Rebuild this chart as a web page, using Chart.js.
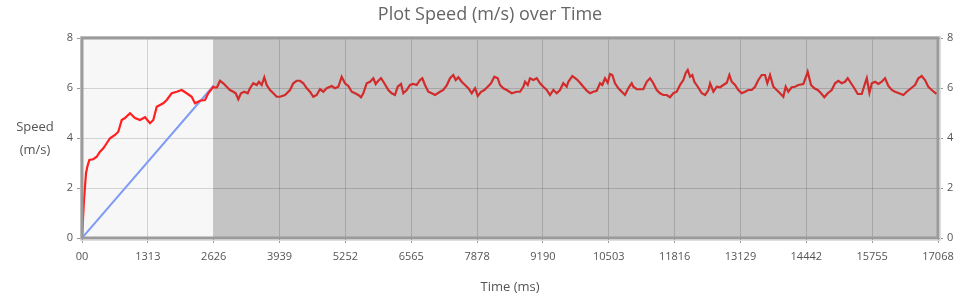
<!DOCTYPE html>
<html>
<head>
<meta charset="utf-8">
<script src="https://cdn.jsdelivr.net/npm/chart.js@4"></script>
<style>
  html, body { margin: 0; padding: 0; background: #fff; }
  #wrap { width: 980px; height: 298px; }
</style>
</head>
<body>
<div id="wrap"><canvas id="speedChart"></canvas></div>
<script>
// Speed samples (time in ms, speed in m/s)
const timeMs = [
  0, 40, 80, 106, 146, 225, 293, 359, 425, 493, 558, 658, 724, 792, 857, 957,
  1057, 1157, 1256, 1356, 1422, 1490, 1555, 1621, 1689, 1789, 1888, 1988, 2088,
  2187, 2253, 2353, 2453, 2518, 2618,
  2686, 2752, 2818, 2885, 2951, 3017, 3065, 3117, 3170, 3236, 3304, 3350, 3416,
  3484, 3529, 3583, 3635, 3683, 3749, 3815, 3882, 3948, 4048, 4148, 4213, 4281,
  4347, 4413, 4481, 4546, 4612, 4680, 4746, 4812, 4879, 4945, 4979, 5045, 5111,
  5178, 5244, 5310, 5378, 5444, 5510, 5563, 5609, 5677, 5743, 5809, 5856, 5908,
  5962, 6028, 6108, 6175, 6241, 6295, 6361, 6407, 6475, 6540, 6606, 6674, 6740,
  6786, 6839, 6905, 6973, 7039, 7139, 7204, 7272, 7338, 7404, 7452, 7504, 7571,
  7637, 7703, 7771, 7837, 7891, 7957, 8022, 8090, 8156, 8222, 8290, 8335, 8401,
  8469, 8569, 8668, 8734, 8800, 8834, 8888, 8933, 8999, 9067, 9133, 9199, 9266,
  9332, 9398, 9466, 9531, 9597, 9665, 9697, 9777, 9865, 9930, 9996, 10064,
  10130, 10195, 10263, 10329, 10375, 10429, 10482, 10528, 10574, 10628, 10694,
  10762, 10827, 10893, 10961, 10993, 11061, 11126, 11192, 11260, 11326, 11392,
  11460, 11525, 11591, 11659, 11725, 11791, 11858, 11924, 11990, 12038, 12078,
  12124, 12170, 12210, 12278, 12358, 12424, 12490, 12524, 12590, 12657, 12722,
  12788, 12856, 12908, 12955, 13021, 13087, 13154, 13220, 13286, 13354, 13420,
  13486, 13553, 13619, 13665, 13719, 13785, 13852, 13918, 13984, 14031, 14083,
  14151, 14217, 14283, 14383, 14450, 14470, 14536, 14602, 14670, 14736, 14802,
  14870, 14949, 15015, 15081, 15148, 15214, 15268, 15334, 15400, 15468, 15548,
  15614, 15648, 15700, 15748, 15814, 15880, 15946, 16012, 16078, 16146, 16212,
  16291, 16377, 16445, 16530, 16610, 16676, 16744, 16809, 16875, 16943, 17023, 17068
];
const speed = [
  0, 1.52, 2.59, 2.85, 3.12, 3.15, 3.25, 3.45, 3.59, 3.79, 3.99, 4.12, 4.25, 4.72, 4.8, 4.99,
  4.8, 4.72, 4.83, 4.59, 4.72, 5.25, 5.32, 5.39, 5.52, 5.79, 5.85, 5.92, 5.79,
  5.65, 5.39, 5.49, 5.52, 5.79, 6.05,
  6.0, 6.29, 6.19, 6.05, 5.92, 5.85, 5.79, 5.55, 5.79, 5.85, 5.79, 5.99, 6.19,
  6.12, 6.25, 6.12, 6.43, 6.12, 5.92, 5.79, 5.65, 5.65, 5.72, 5.92, 6.19, 6.29,
  6.29, 6.19, 5.99, 5.85, 5.65, 5.72, 5.95, 5.85, 5.99, 6.05, 6.08, 5.99, 6.05,
  6.45, 6.19, 6.08, 5.85, 5.79, 5.72, 5.63, 5.79, 6.19, 6.25, 6.39, 6.16, 6.29,
  6.39, 6.19, 5.92, 5.79, 5.72, 6.05, 6.16, 5.79, 5.92, 6.12, 6.16, 6.12, 6.32,
  6.39, 6.12, 5.85, 5.79, 5.72, 5.85, 5.92, 6.1, 6.39, 6.52, 6.32, 6.43, 6.25,
  6.12, 5.99, 5.79, 5.99, 5.68, 5.85, 5.92, 6.05, 6.19, 6.45, 6.39, 6.12, 5.99,
  5.92, 5.79, 5.85, 5.85, 6.05, 6.25, 6.12, 6.39, 6.32, 6.39, 6.19, 6.05, 5.92,
  5.72, 5.92, 5.79, 5.92, 6.19, 6.05, 6.25, 6.48, 6.35, 6.21, 6.05, 5.89,
  5.79, 5.85, 5.89, 6.19, 6.12, 6.39, 6.21, 6.56, 6.52, 6.19, 5.99,
  5.85, 5.72, 5.99, 6.19, 6.05, 5.95, 5.95, 5.95, 6.25, 6.39, 6.19,
  5.92, 5.79, 5.72, 5.72, 5.63, 5.79, 5.85, 6.12, 6.32, 6.6, 6.72,
  6.45, 6.52, 6.25, 6.05, 5.79, 5.72, 5.92, 6.19, 5.85, 6.05, 6.03,
  6.12, 6.21, 6.52, 6.25, 6.12, 5.92, 5.79, 5.85, 5.92, 5.92, 6.05,
  6.32, 6.52, 6.52, 6.19, 6.52, 6.05, 5.92, 5.79, 5.65, 6.05, 5.85,
  6.03, 6.05, 6.12, 6.16, 6.52, 6.65, 6.12, 5.99, 5.92, 5.79, 5.63,
  5.79, 5.92, 6.19, 6.29, 6.19, 6.25, 6.39, 6.19, 5.99, 5.76, 5.76,
  6.19, 6.39, 5.81, 6.19, 6.25, 6.16, 6.25, 6.39, 6.08, 5.92, 5.85,
  5.79, 5.72, 5.85, 5.99, 6.12, 6.39, 6.48, 6.32, 6.05, 5.92, 5.79, 5.8
];

// straight reference line over the warm-up phase
const refTime = [0, 2626];
const refSpeed = [0, 6.1];
const splitTime = 2626;

const xTicks = [0, 1313, 2626, 3939, 5252, 6565, 7878, 9190, 10503, 11816, 13129, 14442, 15755, 17068];
const xTickLabels = ['00', '1313', '2626', '3939', '5252', '6565', '7878', '9190', '10503', '11816', '13129', '14442', '15755', '17068'];
const yTicks = [0, 2, 4, 6, 8];

const FONT = "'Open Sans', sans-serif";
const tickFont = { family: FONT, size: 11 };

// shaded background + plot frame + horizontal y title
const plotDecor = {
  id: 'plotDecor',
  beforeDraw(chart) {
    const { ctx, chartArea: a, scales } = chart;
    const xs = scales.x.getPixelForValue(splitTime);
    ctx.save();
    ctx.fillStyle = '#f7f7f7';
    ctx.fillRect(a.left, a.top, xs - a.left, a.bottom - a.top);
    ctx.fillStyle = '#c4c4c4';
    ctx.fillRect(xs, a.top, a.right - xs, a.bottom - a.top);
    ctx.restore();
  },
  afterDraw(chart) {
    const { ctx, chartArea: a } = chart;
    ctx.save();
    ctx.strokeStyle = '#dedede';
    ctx.lineWidth = 1;
    ctx.strokeRect(a.left - 1.5, a.top - 1.5, a.right - a.left + 4, a.bottom - a.top + 4);
    ctx.strokeStyle = '#9b9b9b';
    ctx.lineWidth = 3;
    ctx.strokeRect(a.left, a.top, a.right - a.left, a.bottom - a.top);
    ctx.fillStyle = '#555';
    ctx.font = "13px " + FONT;
    ctx.textAlign = 'center';
    ctx.textBaseline = 'middle';
    const cy = (a.top + a.bottom) / 2;
    ctx.fillText('Speed', 35, cy - 11);
    ctx.fillText('(m/s)', 35, cy + 12);
    ctx.restore();
  }
};

const speedChart = new Chart(document.getElementById('speedChart'), {
  type: 'line',
  data: {
    datasets: [{
      label: 'Speed',
      data: timeMs.map((t, i) => ({ x: t, y: speed[i] })),
      borderColor: '#ff1f1f',
      borderWidth: 2.2,
      pointRadius: 0,
      tension: 0,
      segment: {
        borderColor: c => c.p0.parsed.x >= splitTime ? '#d22b2b' : '#ff1f1f'
      }
    }, {
      label: 'Reference',
      data: refTime.map((t, i) => ({ x: t, y: refSpeed[i] })),
      borderColor: '#7f9cf4',
      borderWidth: 2,
      pointRadius: 0
    }]
  },
  options: {
    responsive: true,
    maintainAspectRatio: false,
    animation: false,
    devicePixelRatio: 1,
    layout: { padding: 0 },
    plugins: {
      legend: { display: false },
      tooltip: { enabled: false },
      title: {
        display: true,
        text: 'Plot Speed (m/s) over Time',
        color: '#666',
        font: { family: FONT, size: 18, weight: 'normal' },
        padding: { top: 4, bottom: 12.4 }
      }
    },
    scales: {
      x: {
        type: 'linear',
        min: 0,
        max: 17068,
        afterBuildTicks: s => { s.ticks = xTicks.map(v => ({ value: v })); },
        afterFit: s => { s.height = 60; },
        ticks: {
          autoSkip: false,
          maxRotation: 0,
          padding: 7,
          color: '#555',
          font: tickFont,
          callback: v => xTickLabels[xTicks.indexOf(v)]
        },
        grid: { color: 'rgba(0,0,0,0.15)', tickColor: '#999', tickLength: 5 },
        border: { display: false },
        title: {
          display: true,
          text: 'Time (ms)',
          color: '#555',
          font: { family: FONT, size: 13 },
          padding: { top: 0, bottom: 3 }
        }
      },
      y: {
        position: 'left',
        min: 0,
        max: 8,
        afterBuildTicks: s => { s.ticks = yTicks.map(v => ({ value: v })); },
        afterFit: s => { s.width = 82; },
        ticks: { color: '#555', font: tickFont, padding: 4 },
        grid: { color: 'rgba(0,0,0,0.15)', tickColor: '#999', tickLength: 5 },
        border: { display: false }
      },
      y2: {
        position: 'right',
        min: 0,
        max: 8,
        afterBuildTicks: s => { s.ticks = yTicks.map(v => ({ value: v })); },
        afterFit: s => { s.width = 42; },
        ticks: { color: '#555', font: tickFont, padding: 4 },
        grid: { drawOnChartArea: false, tickColor: '#999', tickLength: 5 },
        border: { display: false }
      }
    }
  },
  plugins: [plotDecor]
});
</script>
</body>
</html>
